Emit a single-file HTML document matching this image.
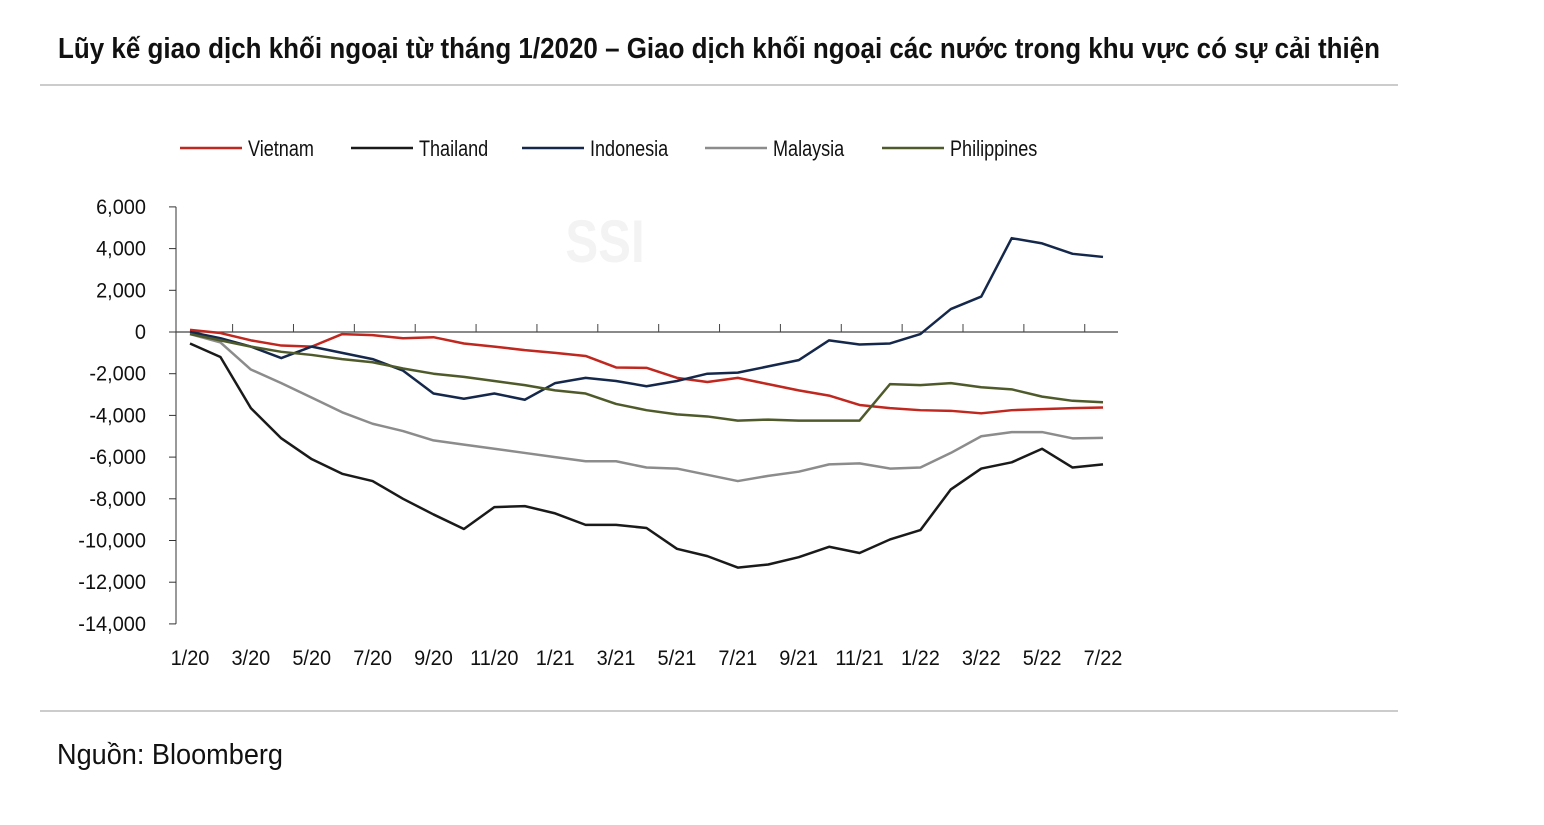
<!DOCTYPE html>
<html><head><meta charset="utf-8"><style>
body{margin:0;background:#fff;}
svg text{font-family:"Liberation Sans Narrow","Liberation Sans",sans-serif;}
</style></head><body>
<svg width="1544" height="820" viewBox="0 0 1544 820" xmlns="http://www.w3.org/2000/svg">
<text x="58" y="58" font-size="29" font-weight="bold" fill="#111" textLength="1322" lengthAdjust="spacingAndGlyphs">Lũy kế giao dịch khối ngoại từ tháng 1/2020 – Giao dịch khối ngoại các nước trong khu vực có sự cải thiện</text>
<line x1="40" y1="85" x2="1398" y2="85" stroke="#bbb" stroke-width="1.5"/>
<line x1="40" y1="711" x2="1398" y2="711" stroke="#bbb" stroke-width="1.5"/>
<text x="57" y="764" font-size="29" fill="#111" textLength="226" lengthAdjust="spacingAndGlyphs">Nguồn: Bloomberg</text>
<text id="wm" x="605" y="262" font-size="60" font-weight="bold" fill="#f3f3f3" text-anchor="middle">SSI</text>
<g id="legend"></g>
<g id="axes"></g>
<g id="series"></g>
</svg>
<script>
const categories = ["1/20","3/20","5/20","7/20","9/20","11/20","1/21","3/21","5/21","7/21","9/21","11/21","1/22","3/22","5/22","7/22"];
const yTicks = [6000,4000,2000,0,-2000,-4000,-6000,-8000,-10000,-12000,-14000];
const seriesNames = ["Vietnam","Thailand","Indonesia","Malaysia","Philippines"];
const seriesColors = ["#c0271e","#1a1a1a","#15284b","#8c8c8c","#4e5a2a"];
const vietnam = [100,-50,-400,-650,-700,-100,-150,-300,-250,-550,-700,-870,-1000,-1150,-1700,-1720,-2200,-2400,-2200,-2500,-2800,-3050,-3500,-3650,-3750,-3780,-3900,-3750,-3700,-3650,-3620];
const thailand = [-550,-1200,-3650,-5100,-6100,-6800,-7150,-8000,-8750,-9450,-8400,-8350,-8700,-9250,-9250,-9400,-10400,-10750,-11300,-11150,-10800,-10300,-10600,-9950,-9500,-7550,-6550,-6250,-5600,-6500,-6350];
const indonesia = [0,-300,-700,-1250,-700,-1000,-1300,-1850,-2950,-3200,-2950,-3250,-2450,-2200,-2350,-2600,-2350,-2000,-1950,-1650,-1350,-400,-600,-550,-100,1100,1700,4500,4250,3750,3600];
const malaysia = [-100,-500,-1800,-2450,-3150,-3850,-4400,-4750,-5200,-5400,-5600,-5800,-6000,-6200,-6200,-6500,-6550,-6850,-7150,-6900,-6700,-6350,-6300,-6550,-6500,-5800,-5000,-4800,-4800,-5100,-5080];
const philippines = [-100,-400,-700,-950,-1100,-1300,-1450,-1750,-2000,-2150,-2350,-2550,-2800,-2950,-3450,-3750,-3950,-4050,-4250,-4200,-4250,-4250,-4250,-2500,-2550,-2450,-2650,-2750,-3100,-3300,-3370];
const allSeries = [vietnam,thailand,indonesia,malaysia,philippines];

const NS="http://www.w3.org/2000/svg";
const X0=190, X1=1103, nM=vietnam.length-1;
const xS=i=>X0+(X1-X0)*i/nM;
const yS=v=>332-(v/1000)*20.85;
function mk(tag,attrs,parent){const e=document.createElementNS(NS,tag);for(const k in attrs)e.setAttribute(k,attrs[k]);parent.appendChild(e);return e;}
function narrow(t,f){const w=t.getComputedTextLength();if(w>0){t.setAttribute('textLength',(w*f).toFixed(1));t.setAttribute('lengthAdjust','spacingAndGlyphs');}}
const axes=document.getElementById('axes');
let ya=mk('line',{x1:176,y1:yS(6000),x2:176,y2:yS(-14000),stroke:'#333','stroke-width':1},axes);


yTicks.forEach(t=>{
  let l=mk('line',{x1:169,y1:yS(t),x2:176,y2:yS(t),stroke:'#333'},axes);
  
  
  let tx=mk('text',{x:146,y:yS(t)+7,'font-size':21,'text-anchor':'end',fill:'#111'},axes);
  tx.textContent=t.toLocaleString('en-US');
  
  
  narrow(tx,0.95);
});
let xa=mk('line',{x1:176,y1:yS(0),x2:1118,y2:yS(0),stroke:'#444','stroke-width':1.2},axes);


categories.forEach((c,k)=>{
  let tx=mk('text',{x:xS(2*k),y:665,'font-size':21,'text-anchor':'middle',fill:'#111'},axes);
  tx.textContent=c;
  
  
  narrow(tx,0.95);
  if(k<categories.length-1){
    let tl=mk('line',{x1:xS(2*k+1.4),y1:yS(0)-8,x2:xS(2*k+1.4),y2:yS(0),stroke:'#444'},axes);
    
    
  }
});
const sg=document.getElementById('series');
allSeries.forEach((s,j)=>{
  let p=mk('polyline',{points:s.map((v,i)=>xS(i)+','+yS(v)).join(' '),fill:'none',stroke:seriesColors[j],'stroke-width':2.5,'stroke-linejoin':'round'},sg);
  
  
});
const lg=document.getElementById('legend');
const legX=[180,351,522,705,882];
seriesNames.forEach((n,j)=>{
  let l=mk('line',{x1:legX[j],y1:148,x2:legX[j]+62,y2:148,stroke:seriesColors[j],'stroke-width':2.5},lg);
  
  
  let t=mk('text',{x:legX[j]+68,y:156,'font-size':22,fill:'#111'},lg);
  t.textContent=n;
  
  
  narrow(t,0.82);
});
narrow(document.getElementById('wm'),0.82);
</script>
</body></html>
